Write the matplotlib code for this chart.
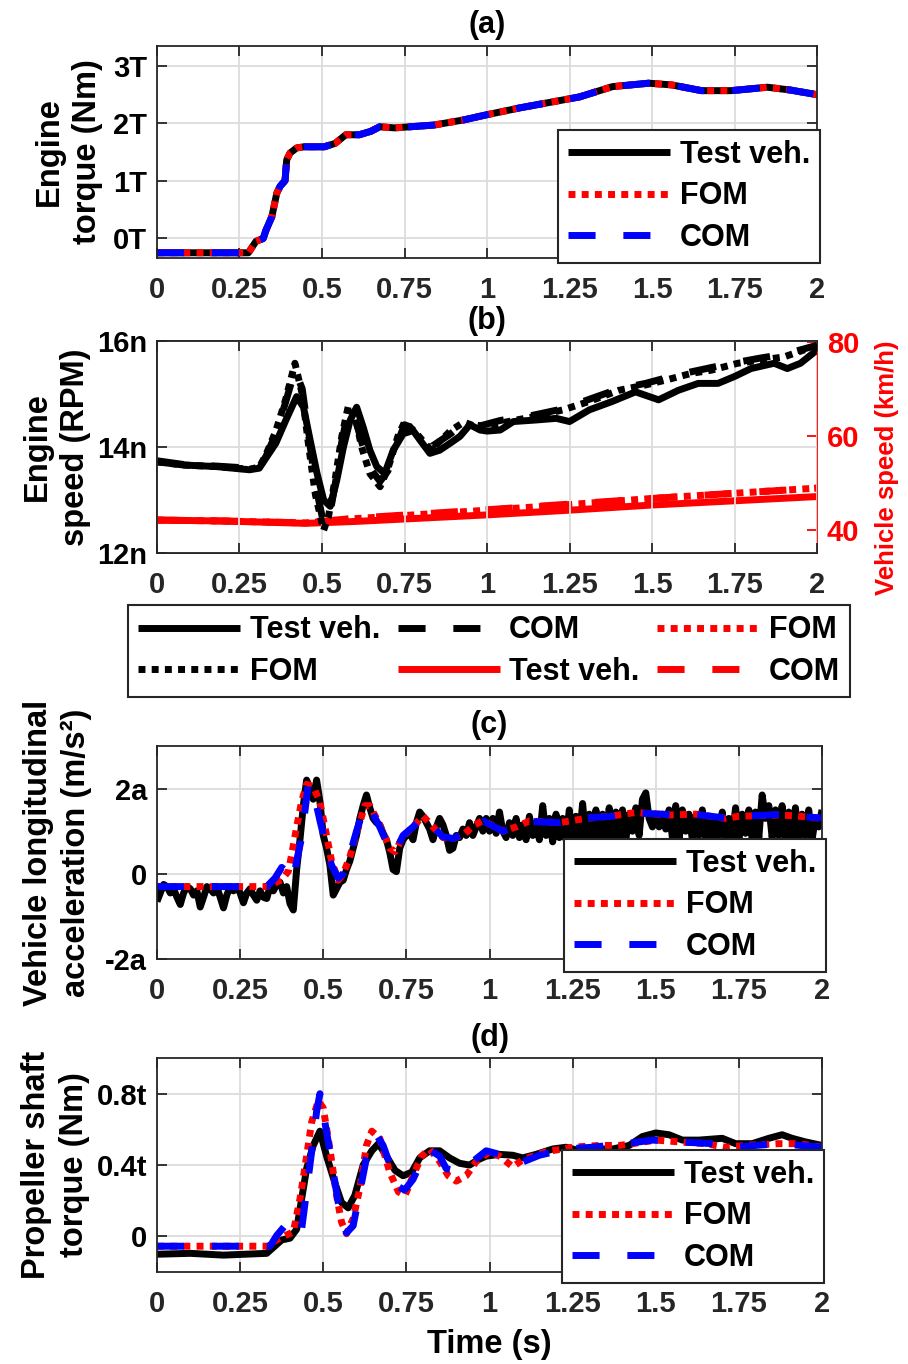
import numpy as np
import matplotlib.pyplot as plt

plt.rcParams['font.family'] = ['Liberation Sans', 'DejaVu Sans']
plt.rcParams['font.weight'] = 'bold'
plt.rcParams['axes.titleweight'] = 'bold'
plt.rcParams['axes.labelweight'] = 'bold'

# ---------------- data ----------------
# (a) engine torque
t_a = [0, 0.277, 0.30, 0.322, 0.33, 0.348, 0.363, 0.373, 0.388, 0.393, 0.403, 0.423, 0.446,
       0.507, 0.54, 0.572, 0.613, 0.648, 0.675, 0.72, 0.84, 0.93, 1.0, 1.1, 1.28, 1.38,
       1.49, 1.56, 1.65, 1.74, 1.85, 1.92, 2.0]
torque_test = [-0.26, -0.26, -0.06, -0.01, 0.13, 0.37, 0.78, 0.9, 1.0, 1.36, 1.48, 1.57, 1.59,
               1.59, 1.65, 1.8, 1.8, 1.86, 1.94, 1.92, 1.97, 2.06, 2.15, 2.27, 2.46, 2.64,
               2.7, 2.67, 2.57, 2.57, 2.63, 2.58, 2.5]
torque_fom = torque_test
torque_com = torque_test

# (b) engine speed (left) and vehicle speed (right)
t_b_test = [0, 0.08, 0.18, 0.28, 0.31, 0.33, 0.36, 0.39, 0.423, 0.444, 0.464, 0.485, 0.505,
            0.525, 0.545, 0.565, 0.585, 0.605, 0.625, 0.645, 0.666, 0.69, 0.716, 0.746, 0.776,
            0.797, 0.827, 0.857, 0.888, 0.918, 0.948, 0.979, 1.0, 1.04, 1.08, 1.15, 1.21,
            1.25, 1.31, 1.38, 1.45, 1.52, 1.58, 1.64, 1.7, 1.75, 1.8, 1.87, 1.91, 1.95, 2.0]
speed_test = [13.72, 13.66, 13.63, 13.57, 13.6, 13.79, 14.07, 14.5, 14.95, 14.75, 14.13, 13.5,
              13.0, 12.88, 13.38, 14.0, 14.5, 14.75, 14.37, 13.94, 13.63, 13.5, 13.94, 14.25,
              14.31, 14.13, 13.88, 13.94, 14.07, 14.2, 14.42, 14.32, 14.3, 14.32, 14.48, 14.51,
              14.54, 14.48, 14.7, 14.86, 15.04, 14.89, 15.07, 15.2, 15.2, 15.33, 15.48, 15.58,
              15.48, 15.58, 15.83]
t_b_model = [0, 0.08, 0.18, 0.28, 0.31, 0.33, 0.36, 0.39, 0.418, 0.44, 0.46, 0.48, 0.505,
             0.52, 0.54, 0.56, 0.58, 0.60, 0.62, 0.645, 0.676, 0.70, 0.73, 0.75, 0.78, 0.83,
             0.89, 0.93, 0.98, 1.04, 1.14, 1.23, 1.31, 1.4, 1.48, 1.54, 1.62, 1.68, 1.76,
             1.83, 1.9, 1.96, 2.0]
speed_fom = [13.72, 13.66, 13.63, 13.58, 13.62, 13.85, 14.3, 14.9, 15.58, 15.0, 14.0, 13.1,
             12.43, 12.7, 13.4, 14.2, 14.78, 14.6, 14.0, 13.5, 13.25, 13.6, 14.2, 14.47, 14.3,
             13.94, 14.31, 14.47, 14.35, 14.45, 14.57, 14.7, 14.86, 15.07, 15.17, 15.26,
             15.39, 15.45, 15.58, 15.64, 15.7, 15.83, 15.89]
speed_com = [13.74, 13.67, 13.64, 13.6, 13.63, 13.82, 14.25, 14.85, 15.45, 15.1, 14.2, 13.3,
             12.55, 12.6, 13.3, 14.1, 14.7, 14.55, 14.1, 13.6, 13.35, 13.55, 14.1, 14.42,
             14.35, 14.0, 14.25, 14.45, 14.4, 14.5, 14.6, 14.72, 14.9, 15.1, 15.2, 15.3,
             15.42, 15.5, 15.6, 15.68, 15.75, 15.85, 15.92]
t_v = [0, 0.2, 0.45, 0.6, 0.8, 1.0, 1.25, 1.5, 1.75, 2.0]
vspeed_test = [42.1, 41.9, 41.4, 41.8, 42.5, 43.2, 44.2, 45.3, 46.2, 47.1]
vspeed_fom = [42.1, 41.9, 41.5, 42.4, 43.3, 44.2, 45.4, 46.7, 47.8, 48.9]
vspeed_com = [42.1, 41.9, 41.5, 42.5, 43.4, 44.3, 45.5, 46.7, 47.8, 48.9]

# (c) vehicle longitudinal acceleration, test signal sampled every 0.01 s
t_c_test = np.linspace(0, 2, 201)
acc_test = [
    -0.65, -0.45, -0.25, -0.30, -0.45, -0.35, -0.55, -0.72, -0.45, -0.30,
    -0.35, -0.50, -0.40, -0.78, -0.55, -0.30, -0.35, -0.45, -0.30, -0.55,
    -0.80, -0.50, -0.30, -0.40, -0.30, -0.45, -0.68, -0.45, -0.35, -0.50,
    -0.62, -0.40, -0.55, -0.58, -0.30, -0.40, -0.25, -0.20, -0.45, -0.30,
    -0.70, -0.85, 0.10, 0.80, 1.60, 2.20, 2.00, 1.75, 2.20, 1.70,
    0.90, 0.60, 0.20, -0.50, -0.35, -0.20, -0.15, 0.10, 0.30, 0.60,
    0.90, 1.30, 1.60, 1.85, 1.55, 1.30, 1.20, 1.15, 0.95, 0.80,
    0.50, 0.10, 0.05, 0.60, 0.80, 0.90, 0.95, 0.80, 1.20, 1.45,
    1.35, 1.20, 1.05, 0.80, 1.10, 1.30, 1.15, 0.90, 0.55, 0.60,
    0.90, 0.85, 1.05, 0.90, 1.20, 0.90, 1.10, 1.30, 1.00, 1.30,
    1.00, 1.30, 0.95, 1.45, 1.00, 0.85, 1.20, 0.90, 1.30, 0.85,
    1.15, 0.80, 1.35, 0.90, 1.20, 0.80, 1.60, 0.90, 1.30, 0.75,
    1.40, 0.85, 1.30, 0.80, 1.50, 0.75, 1.35, 0.80, 1.65, 0.80,
    1.40, 0.75, 1.50, 0.80, 1.40, 0.85, 1.55, 0.80, 1.45, 0.75,
    1.50, 0.80, 1.40, 1.00, 1.55, 0.90, 1.75, 1.90, 1.30, 1.10,
    1.30, 1.10, 1.40, 1.05, 1.50, 0.85, 1.60, 0.80, 1.50, 1.00,
    1.40, 0.80, 1.35, 0.90, 1.50, 0.85, 1.35, 0.80, 1.25, 0.90,
    1.45, 0.80, 1.30, 0.85, 1.55, 0.80, 1.40, 0.95, 1.50, 0.80,
    1.45, 0.85, 1.85, 1.30, 1.60, 0.85, 1.50, 0.90, 1.60, 0.80,
    1.45, 0.85, 1.55, 0.80, 1.40, 0.90, 1.50, 0.80, 1.30, 1.10,
    1.50]
t_c_fom = [0, 0.33, 0.375, 0.395, 0.405, 0.42, 0.435, 0.45, 0.47, 0.49, 0.51, 0.525, 0.545,
           0.56, 0.58, 0.6, 0.625, 0.64, 0.67, 0.7, 0.716, 0.74, 0.77, 0.8, 0.83, 0.86, 0.89,
           0.926, 0.956, 0.981, 1.04, 1.08, 1.12, 1.21, 1.29, 1.37, 1.44, 1.54, 1.62, 1.71,
           1.75, 1.87, 1.92, 2.0]
acc_fom = [-0.3, -0.3, -0.14, 0.06, 0.45, 1.1, 1.7, 2.1, 2.05, 1.68, 0.9, 0.3, -0.15, 0.0,
           0.4, 0.95, 1.6, 1.6, 1.15, 0.6, 0.52, 0.88, 1.1, 1.36, 1.1, 0.85, 0.82, 0.95, 1.15,
           1.25, 1.0, 1.1, 1.24, 1.2, 1.3, 1.36, 1.44, 1.38, 1.4, 1.3, 1.35, 1.38, 1.36, 1.3]
t_c_com = [0, 0.33, 0.355, 0.375, 0.39, 0.41, 0.42, 0.435, 0.455, 0.47, 0.49, 0.51, 0.525,
           0.545, 0.56, 0.58, 0.6, 0.625, 0.64, 0.67, 0.7, 0.716, 0.74, 0.77, 0.8, 0.83, 0.86,
           0.89, 0.926, 0.956, 0.981, 1.04, 1.08, 1.12, 1.21, 1.29, 1.37, 1.44, 1.54, 1.62,
           1.71, 1.75, 1.87, 1.92, 2.0]
acc_com = [-0.3, -0.3, -0.1, 0.15, 0.05, -0.15, 0.3, 0.85, 2.1, 1.95, 1.25, 0.6, 0.2, -0.1,
           0.0, 0.45, 1.0, 1.6, 1.55, 1.1, 0.57, 0.5, 0.9, 1.1, 1.34, 1.1, 0.87, 0.83, 0.95,
           1.14, 1.24, 1.0, 1.11, 1.23, 1.2, 1.31, 1.35, 1.43, 1.39, 1.39, 1.31, 1.35, 1.39,
           1.35, 1.31]

# (d) propeller shaft torque
t_d_test = [0, 0.1, 0.2, 0.33, 0.345, 0.375, 0.4, 0.42, 0.435, 0.45, 0.47, 0.49, 0.51, 0.535,
            0.555, 0.575, 0.595, 0.62, 0.646, 0.666, 0.69, 0.716, 0.74, 0.766, 0.79, 0.82,
            0.85, 0.88, 0.91, 0.94, 0.966, 0.99, 1.03, 1.07, 1.1, 1.14, 1.19, 1.23, 1.27,
            1.32, 1.37, 1.42, 1.46, 1.5, 1.54, 1.58, 1.63, 1.7, 1.74, 1.79, 1.84, 1.88, 1.91,
            1.95, 2.0]
shaft_test = [-0.1, -0.095, -0.105, -0.095, -0.07, -0.02, -0.01, 0.04, 0.21, 0.38, 0.51,
              0.59, 0.45, 0.3, 0.19, 0.16, 0.23, 0.4, 0.48, 0.52, 0.45, 0.37, 0.34, 0.36,
              0.44, 0.48, 0.48, 0.44, 0.41, 0.4, 0.43, 0.45, 0.46, 0.455, 0.44, 0.46, 0.49,
              0.5, 0.48, 0.49, 0.49, 0.51, 0.56, 0.58, 0.57, 0.54, 0.54, 0.55, 0.52, 0.52,
              0.55, 0.57, 0.55, 0.53, 0.51]
t_d_fom = [0, 0.34, 0.35, 0.38, 0.41, 0.43, 0.45, 0.465, 0.485, 0.5, 0.52, 0.54, 0.555, 0.57,
           0.59, 0.61, 0.63, 0.646, 0.67, 0.7, 0.726, 0.746, 0.77, 0.796, 0.82, 0.85, 0.876,
           0.9, 0.93, 0.96, 0.99, 1.0, 1.03, 1.07, 1.1, 1.17, 1.25, 1.33, 1.39, 1.43, 1.5,
           1.57, 1.65, 1.71, 1.77, 1.87, 1.93, 2.0]
shaft_fom = [-0.055, -0.055, -0.03, 0.0, 0.025, 0.21, 0.45, 0.64, 0.76, 0.72, 0.49, 0.23,
             0.08, 0.015, 0.1, 0.27, 0.51, 0.59, 0.55, 0.36, 0.25, 0.23, 0.34, 0.45, 0.49,
             0.42, 0.34, 0.31, 0.34, 0.42, 0.46, 0.475, 0.45, 0.39, 0.43, 0.475, 0.5, 0.51,
             0.51, 0.52, 0.54, 0.53, 0.52, 0.5, 0.51, 0.52, 0.52, 0.5]
t_d_com = [0, 0.34, 0.36, 0.385, 0.41, 0.435, 0.46, 0.48, 0.49, 0.505, 0.525, 0.545, 0.57,
           0.59, 0.61, 0.63, 0.66, 0.68, 0.705, 0.725, 0.745, 0.77, 0.8, 0.825, 0.85, 0.87,
           0.89, 0.92, 0.95, 0.99, 1.05, 1.09, 1.15, 1.23, 1.31, 1.41, 1.49, 1.57, 1.67,
           1.74, 1.8, 1.87, 2.0]
shaft_com = [-0.055, -0.055, 0.005, 0.06, 0.0, 0.04, 0.4, 0.7, 0.8, 0.64, 0.42, 0.19, 0.02,
             0.06, 0.25, 0.44, 0.57, 0.51, 0.38, 0.28, 0.26, 0.32, 0.44, 0.48, 0.45, 0.38,
             0.37, 0.38, 0.42, 0.48, 0.45, 0.41, 0.455, 0.49, 0.5, 0.52, 0.54, 0.53, 0.52,
             0.5, 0.51, 0.52, 0.5]

xticks = [0, 0.25, 0.5, 0.75, 1, 1.25, 1.5, 1.75, 2]
xticklabels = ['0', '0.25', '0.5', '0.75', '1', '1.25', '1.5', '1.75', '2']

# ---------------- styles ----------------
LW = 5
AX_COL = '#262626'
TICK_FS = 21
LAB_FS = 23.5
LEG_FS = 22
solid = dict(lw=LW, solid_capstyle='butt', solid_joinstyle='round')
dotted = dict(lw=LW, dashes=(1.0, 0.9), dash_capstyle='butt')
dashed = dict(lw=LW, dashes=(3.9, 4.0), dash_capstyle='butt')


def style_axes(ax, ylim, yticks, yticklabels, right=True):
    ax.set_xlim(0, 2)
    ax.set_xticks(xticks)
    ax.set_xticklabels(xticklabels)
    ax.set_ylim(*ylim)
    ax.set_yticks(yticks)
    ax.set_yticklabels(yticklabels)
    ax.grid(True, color='#dcdcdc', lw=1.3)
    ax.set_axisbelow(True)
    ax.tick_params(axis='both', direction='in', length=7, width=1.3, labelsize=TICK_FS,
                   colors=AX_COL, top=True, right=right)
    ax.tick_params(axis='x', pad=13)
    ax.tick_params(axis='y', pad=7, labelcolor='black')
    for s in ax.spines.values():
        s.set_linewidth(1.3)
        s.set_color(AX_COL)


def add_legend(ax, handles, anchor):
    leg = ax.legend(handles, ['Test veh.', 'FOM', 'COM'], loc='lower right',
                    bbox_to_anchor=anchor, borderaxespad=0, fontsize=LEG_FS,
                    handlelength=3.35, handletextpad=0.3, labelspacing=0.38,
                    borderpad=0.33, fancybox=False, edgecolor=AX_COL, framealpha=1)
    leg.get_frame().set_linewidth(1.5)
    return leg


fig = plt.figure(figsize=(9.08, 13.64), dpi=100)

# (a)
ax_a = fig.add_axes([0.1729, 0.8109, 0.7269, 0.1554])
h1, = ax_a.plot(t_a, torque_test, color='black', **solid)
h2, = ax_a.plot(t_a, torque_fom, color='red', **dotted)
h3, = ax_a.plot(t_a, torque_com, color='blue', **dashed)
style_axes(ax_a, (-0.35, 3.35), [0, 1, 2, 3], ['0T', '1T', '2T', '3T'])
ax_a.set_title('(a)', fontsize=22, pad=9)
ax_a.set_ylabel('Engine\ntorque (Nm)', fontsize=LAB_FS, linespacing=1.3)
ax_a.yaxis.set_label_coords(-0.082, 0.5)
add_legend(ax_a, [h1, h2, h3], (1.0045, -0.0236))

# (b)
ax_b = fig.add_axes([0.1729, 0.5946, 0.7269, 0.1554])
ax_v = ax_b.twinx()
r1, = ax_v.plot(t_v, vspeed_test, color='red', **solid)
r2, = ax_v.plot(t_v, vspeed_fom, color='red', **dotted)
r3, = ax_v.plot(t_v, vspeed_com, color='red', **dashed)
k1, = ax_b.plot(t_b_test, speed_test, color='black', **solid)
k2, = ax_b.plot(t_b_model, speed_fom, color='black', **dotted)
k3, = ax_b.plot(t_b_model, speed_com, color='black', **dashed)
ax_b.set_zorder(ax_v.get_zorder() + 1)
ax_b.patch.set_visible(False)
style_axes(ax_b, (12, 16), [12, 14, 16], ['12n', '14n', '16n'], right=False)
ax_v.set_ylim(35.1, 80.2)
ax_v.set_yticks([40, 60, 80])
ax_v.tick_params(axis='y', direction='in', length=7, width=1.3, labelsize=TICK_FS,
                 colors='red', pad=7)
for s in ax_v.spines.values():
    s.set_linewidth(1.3)
    s.set_color(AX_COL)
ax_v.spines['right'].set_color('red')
ax_b.spines['right'].set_visible(False)
ax_b.set_title('(b)', fontsize=22, pad=9)
ax_b.set_ylabel('Engine\nspeed (RPM)', fontsize=LAB_FS, linespacing=1.3)
ax_b.yaxis.set_label_coords(-0.10, 0.5)
ax_v.set_ylabel('Vehicle speed (km/h)', fontsize=18.5, color='red')
ax_v.yaxis.set_label_coords(1.088, 0.40)

leg_b = fig.legend([k1, k2, k3, r1, r2, r3],
                   ['Test veh.', 'FOM', 'COM', 'Test veh.', 'FOM', 'COM'],
                   ncol=3, loc='center', mode='expand',
                   bbox_to_anchor=(128 / 908, 1 - 697 / 1364, 722 / 908, 92 / 1364),
                   borderaxespad=0, fontsize=LEG_FS, handlelength=3.35, handletextpad=0.3,
                   labelspacing=0.38, borderpad=0.33, columnspacing=0.4,
                   fancybox=False, edgecolor=AX_COL, framealpha=1)
leg_b.get_frame().set_linewidth(1.5)

# (c)
ax_c = fig.add_axes([0.1729, 0.2969, 0.7324, 0.1562])
c1, = ax_c.plot(t_c_test, acc_test, color='black', **solid)
c2, = ax_c.plot(t_c_fom, acc_fom, color='red', **dotted)
c3, = ax_c.plot(t_c_com, acc_com, color='blue', **dashed)
style_axes(ax_c, (-2, 3), [-2, 0, 2], ['-2a', '0', '2a'])
ax_c.set_title('(c)', fontsize=22, pad=9)
ax_c.set_ylabel('Vehicle longitudinal\nacceleration (m/s\u00b2)', fontsize=LAB_FS,
                linespacing=1.3)
ax_c.yaxis.set_label_coords(-0.097, 0.5)
add_legend(ax_c, [c1, c2, c3], (1.006, -0.061))

# (d)
ax_d = fig.add_axes([0.1729, 0.0674, 0.7324, 0.1569])
d1, = ax_d.plot(t_d_test, shaft_test, color='black', **solid)
d2, = ax_d.plot(t_d_fom, shaft_fom, color='red', **dotted)
d3, = ax_d.plot(t_d_com, shaft_com, color='blue', **dashed)
style_axes(ax_d, (-0.2, 1.0), [0, 0.4, 0.8], ['0', '0.4t', '0.8t'])
ax_d.set_title('(d)', fontsize=22, pad=9)
ax_d.set_ylabel('Propeller shaft\ntorque (Nm)', fontsize=LAB_FS, linespacing=1.3)
ax_d.yaxis.set_label_coords(-0.10, 0.5)
ax_d.set_xlabel('Time (s)', fontsize=LAB_FS)
ax_d.xaxis.set_label_coords(0.5, -0.265)
add_legend(ax_d, [d1, d2, d3], (1.003, -0.051))

fig.savefig('out.png', dpi=100)
